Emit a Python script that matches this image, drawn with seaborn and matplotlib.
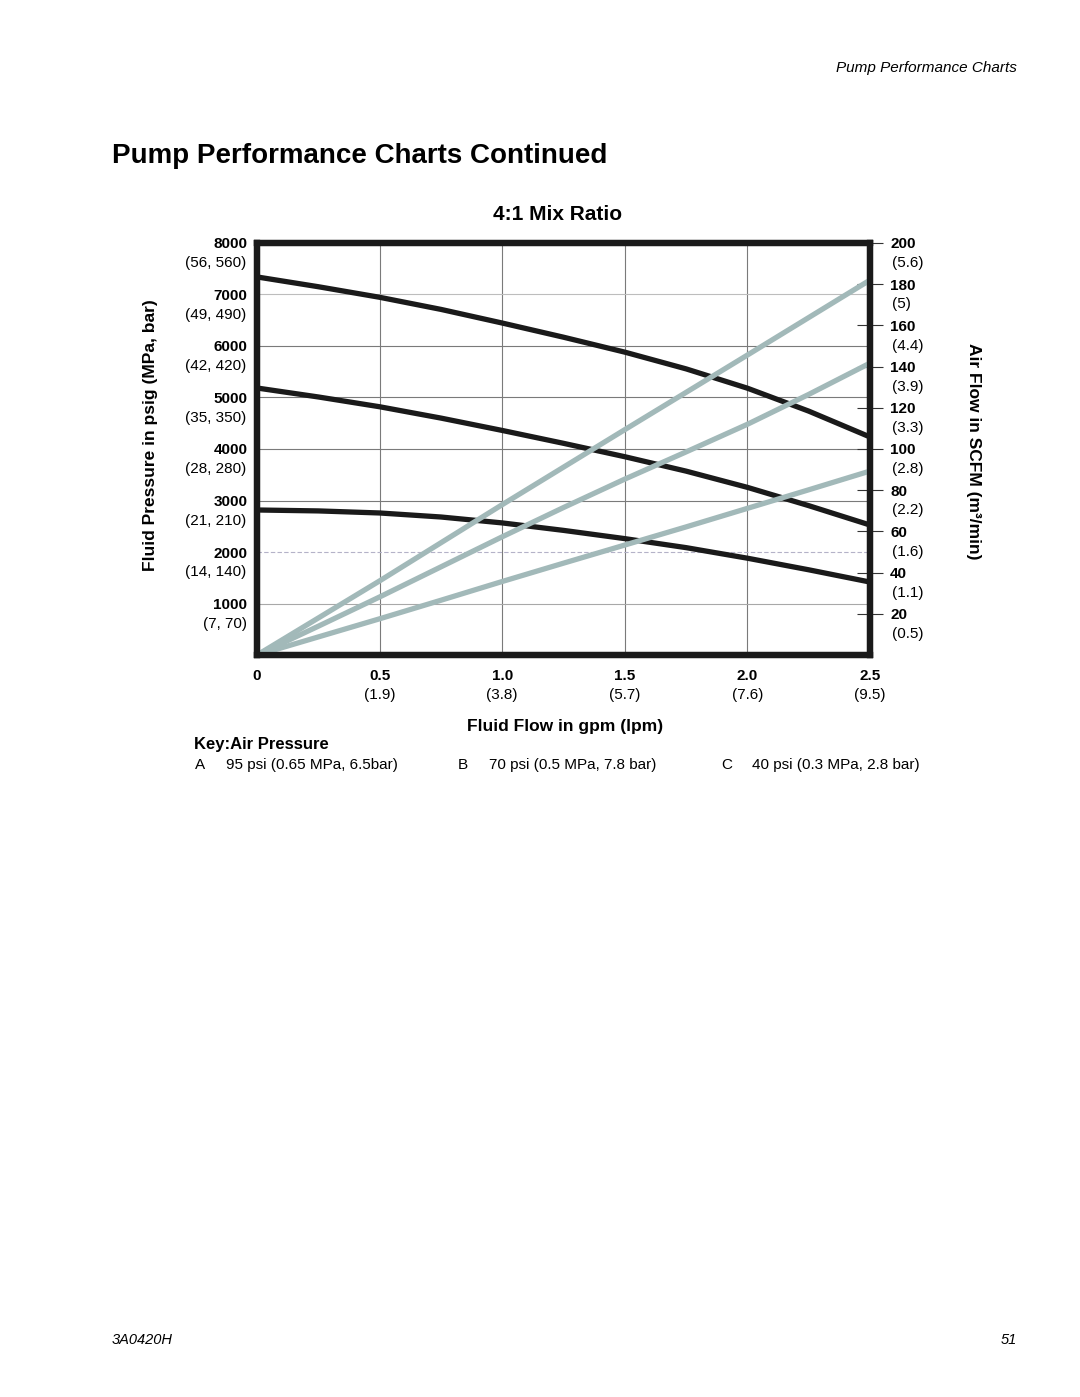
import matplotlib
matplotlib.use('Agg')
import matplotlib.pyplot as plt
import seaborn as sns
import pandas as pd

sns.set_style('white')
plt.rcParams['font.family'] = ['Liberation Sans', 'DejaVu Sans']
plt.rcParams['text.color'] = 'black'
plt.rcParams['xtick.color'] = 'black'
plt.rcParams['ytick.color'] = 'black'
plt.rcParams['axes.labelcolor'] = 'black'

# values (flow in gpm)
flow = [0, 0.25, 0.5, 0.75, 1.0, 1.25, 1.5, 1.75, 2.0, 2.25, 2.5]
psi_a = [7340, 7150, 6945, 6710, 6445, 6170, 5880, 5555, 5180, 4735, 4233]
psi_b = [5184, 5010, 4820, 4600, 4360, 4110, 3850, 3570, 3255, 2900, 2524]
psi_c = [2816, 2798, 2758, 2680, 2565, 2420, 2260, 2085, 1880, 1655, 1417]
scfm_a = [0, 18.0, 36.0, 54.5, 73.0, 91.2, 109.4, 127.5, 145.6, 163.8, 182.0]
scfm_b = [0, 14.0, 28.2, 42.8, 57.4, 71.6, 85.4, 98.6, 112.0, 126.5, 141.7]
scfm_c = [0, 8.8, 17.6, 26.6, 35.7, 44.6, 53.4, 62.2, 71.2, 80.2, 89.3]

psi_ticks = [1000, 2000, 3000, 4000, 5000, 6000, 7000, 8000]
psi_sub = ['(7, 70)', '(14, 140)', '(21, 210)', '(28, 280)', '(35, 350)',
           '(42, 420)', '(49, 490)', '(56, 560)']
scfm_ticks = [20, 40, 60, 80, 100, 120, 140, 160, 180, 200]
scfm_sub = ['(0.5)', '(1.1)', '(1.6)', '(2.2)', '(2.8)', '(3.3)', '(3.9)',
            '(4.4)', '(5)', '(5.6)']
flow_ticks = [0, 0.5, 1.0, 1.5, 2.0, 2.5]
flow_labels = ['0', '0.5', '1.0', '1.5', '2.0', '2.5']
flow_sub = ['', '(1.9)', '(3.8)', '(5.7)', '(7.6)', '(9.5)']

keys = ['A', 'B', 'C']
key_text = ['95 psi (0.65 MPa, 6.5bar)', '70 psi (0.5 MPa, 7.8 bar)',
            '40 psi (0.3 MPa, 2.8 bar)']

pres_df = pd.DataFrame({'flow': flow * 3, 'value': psi_a + psi_b + psi_c,
                        'key': [k for k in keys for _ in flow]})
air_df = pd.DataFrame({'flow': flow * 3, 'value': scfm_a + scfm_b + scfm_c,
                       'key': [k for k in keys for _ in flow]})

fig = plt.figure(figsize=(10.8, 13.97), dpi=100)
ax = fig.add_axes([0.238, 0.5311, 0.5676, 0.295])

sns.lineplot(data=pres_df, x='flow', y='value', units='key', estimator=None,
             color='#1a1a1a', lw=3.8, ax=ax, legend=False,
             solid_joinstyle='round', solid_capstyle='butt')
ax.set_xlim(0, 2.5)
ax.set_ylim(0, 8000)

ax2 = ax.twinx()
sns.lineplot(data=air_df, x='flow', y='value', units='key', estimator=None,
             color='#a2b9b9', lw=3.8, ax=ax2, legend=False,
             solid_joinstyle='round', solid_capstyle='butt')
ax2.set_ylim(0, 200)

# grid
ax.set_xticks(flow_ticks)
ax.set_xticklabels(flow_labels, fontweight='bold', fontsize=11)
ax.set_yticks(psi_ticks)
ax.set_yticklabels([str(t) for t in psi_ticks], fontweight='bold', fontsize=11)
ax.tick_params(axis='both', length=0)
ax.tick_params(axis='x', pad=10)
ax.tick_params(axis='y', pad=7)
ax.grid(True, color='#7a7a7a', lw=0.8)
ygl = ax.get_ygridlines()
ygl[6].set_color('#bdbdbd')
ygl[1].set_color('#b4b2c8')
ygl[1].set_linestyle((0, (4, 2)))
ygl[0].set_color('#a8a8a8')
ax.set_xlabel('')
ax.set_ylabel('')

ax2.set_yticks(scfm_ticks)
ax2.set_yticklabels([str(t) for t in scfm_ticks], fontweight='bold', fontsize=11)
ax2.tick_params(axis='y', direction='inout', length=19, width=0.8,
                color='#333333', pad=5)
ax2.set_ylabel('')
ax2.grid(False)

for a in (ax, ax2):
    for s in a.spines.values():
        s.set_linewidth(4.5)
        s.set_color('#1a1a1a')

# secondary (metric) labels
for v, s in zip(psi_ticks, psi_sub):
    ax.annotate(s, xy=(0, v), xycoords=('axes fraction', 'data'),
                xytext=(-7.5, -14.5), textcoords='offset points',
                ha='right', va='center', fontsize=11)
for v, s in zip(scfm_ticks, scfm_sub):
    ax2.annotate(s, xy=(1, v), xycoords=('axes fraction', 'data'),
                 xytext=(15.5, -14.5), textcoords='offset points',
                 ha='left', va='center', fontsize=11)
for v, s in zip(flow_ticks, flow_sub):
    ax.annotate(s, xy=(v, 0), xycoords=('data', 'axes fraction'),
                xytext=(0, -28.5), textcoords='offset points',
                ha='center', va='center', fontsize=11)

W, H = 1080, 1397


def ft(x, y, s, **kw):
    fig.text(x / W, 1 - y / H, s, **kw)


ft(1017, 68, 'Pump Performance Charts', ha='right', va='center',
   fontsize=11, style='italic')
ft(112, 156, 'Pump Performance Charts Continued', ha='left', va='center',
   fontsize=20, fontweight='bold')
ft(558, 214, '4:1 Mix Ratio', ha='center', va='center', fontsize=15,
   fontweight='bold')
ft(150, 435, 'Fluid Pressure in psig (MPa, bar)', ha='center', va='center',
   rotation=90, fontsize=12.5, fontweight='bold')
ft(973, 451, 'Air Flow in SCFM (m³/min)', ha='center', va='center',
   rotation=-90, fontsize=12.5, fontweight='bold')
ft(565, 727, 'Fluid Flow in gpm (lpm)', ha='center', va='center',
   fontsize=12.5, fontweight='bold')
ft(194, 744, 'Key:Air Pressure', ha='left', va='center', fontsize=12,
   fontweight='bold')
for i, (k, t) in enumerate(zip(keys, key_text)):
    x0 = 195 + i * 263
    ft(x0, 765, k, ha='left', va='center', fontsize=11)
    ft(x0 + 31, 765, t, ha='left', va='center', fontsize=11)

ft(112, 1340, '3A0420H', ha='left', va='center', fontsize=10.5, style='italic')
ft(1017, 1340, '51', ha='right', va='center', fontsize=10.5, style='italic')

fig.savefig('out.png', dpi=100)
